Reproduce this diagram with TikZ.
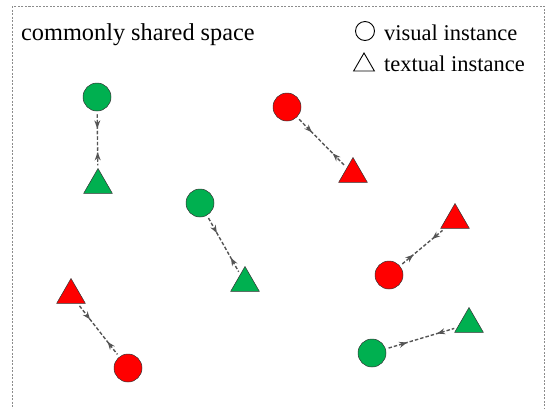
\documentclass[tikz,border=0pt]{standalone}
\usepackage{fontspec}
\setmainfont{Liberation Serif}
\usetikzlibrary{shapes.geometric,decorations.markings,arrows.meta}
\definecolor{gfill}{HTML}{00B050}
\definecolor{rfill}{HTML}{FF0000}
\definecolor{linkc}{HTML}{555555}
\definecolor{framec}{HTML}{8C8C8C}
\tikzset{
  vis/.style={circle, draw=black!80, line width=0.5pt, minimum size=28pt, inner sep=0pt},
  txt/.style={regular polygon, regular polygon sides=3, draw=black!80, line width=0.5pt, minimum size=33pt, inner sep=0pt},
  gvis/.style={vis, fill=gfill},
  rvis/.style={vis, fill=rfill},
  gtxt/.style={txt, fill=gfill},
  rtxt/.style={txt, fill=rfill},
  link/.style={draw=linkc, dash pattern=on 3.5pt off 2pt, line width=1.4pt,
    shorten <=3pt, shorten >=3pt, postaction={decorate},
    decoration={markings,
      mark=at position 0.3 with {\arrow[linkc]{Stealth[length=8pt,width=6pt]}},
      mark=at position 0.72 with {\arrowreversed[linkc]{Stealth[length=8pt,width=6pt]}}}},
  legvis/.style={circle, draw=black, line width=0.9pt, minimum size=19pt, inner sep=0pt},
  legtxt/.style={regular polygon, regular polygon sides=3, draw=black, line width=0.9pt, minimum size=24pt, inner sep=0pt},
  lab/.style={anchor=base west, inner sep=0pt, font=\fontsize{22.5}{26}\selectfont},
}
\begin{document}
\begin{tikzpicture}[x=1pt,y=-1pt]
\useasboundingbox (0,0) rectangle (548,408);
\draw[framec, line width=0.8pt, dash pattern=on 2pt off 1.5pt] (12,6) rectangle (544,430);
\node[anchor=base west, inner sep=0pt, font=\fontsize{24.3}{28}\selectfont] (title) at (21,40) {commonly shared space};
\node[legvis] (lv) at (365,31) {};
\node[lab] (lvt) at (384,40) {visual instance};
\node[legtxt] (lt) at (364,65) {};
\node[lab] (ltt) at (384,71) {textual instance};

\node[gvis] (g1) at (97,97) {};
\node[gtxt] (g1t) at (98,185) {};
\node[rvis] (r1) at (287,107) {};
\node[rtxt] (r1t) at (353,174) {};
\node[gvis] (g2) at (200,203) {};
\node[gtxt] (g2t) at (245,283) {};
\node[rtxt] (r2t) at (455,220) {};
\node[rvis] (r2) at (389,275) {};
\node[rtxt] (r3t) at (71,295) {};
\node[rvis] (r3) at (128,368) {};
\node[gtxt] (g3t) at (469,324) {};
\node[gvis] (g3) at (372,353) {};

\draw[link] (g1) -- (g1t);
\draw[link] (r1) -- (r1t);
\draw[link] (g2) -- (g2t);
\draw[link] (r2) -- (r2t);
\draw[link] (r3t) -- (r3);
\draw[link] (g3) -- (g3t);
\end{tikzpicture}
\end{document}
